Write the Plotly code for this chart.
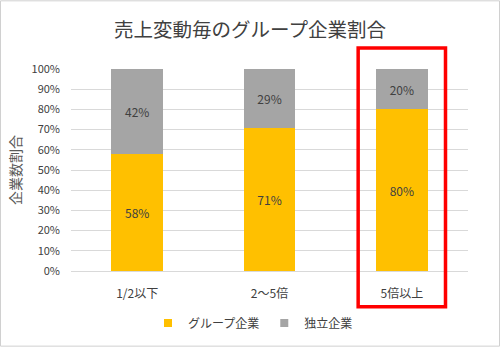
import plotly.graph_objects as go

categories = ["1/2以下", "2～5倍", "5倍以上"]
group_vals = [58, 71, 80]
indep_vals = [42, 29, 20]
y_ticks = [0, 10, 20, 30, 40, 50, 60, 70, 80, 90, 100]
series_names = ["グループ企業", "独立企業"]
series_colors = ["#FFC000", "#A5A5A5"]

FONT = "Meiryo, 'Noto Sans CJK JP', sans-serif"
W, H = 500, 348
L, R, T, B = 71, 32, 69, 76
pw, ph = W - L - R, H - T - B

fig = go.Figure()
for name, vals, col in zip(series_names, [group_vals, indep_vals], series_colors):
    fig.add_trace(go.Bar(
        x=categories, y=vals, name=name, showlegend=False,
        marker=dict(color=col, line=dict(width=0)),
        text=[f"{v}%" for v in vals], textposition="inside",
        insidetextanchor="middle",
        textfont=dict(color="#404040", size=12, family=FONT),
    ))
# legend entries with small square markers
for name, col in zip(series_names, series_colors):
    fig.add_trace(go.Scatter(
        x=[None], y=[None], mode="markers", name=name,
        marker=dict(symbol="square", size=8, color=col),
    ))

shapes = [
    dict(type="rect", xref="paper", yref="paper",
         x0=(0.5 - L) / pw, x1=(W - 0.5 - L) / pw,
         y0=-(B - 0.5) / ph, y1=1 + (T - 0.5) / ph,
         line=dict(color="#D0D0D0", width=1), layer="below"),
    dict(type="rect", xref="x", yref="paper",
         x0=2 - 0.33, x1=2 + 0.33,
         y0=-(308 - (H - B)) / ph, y1=1 + (T - 48) / ph,
         line=dict(color="#FF0000", width=3.5)),
]

fig.update_layout(
    width=W, height=H,
    margin=dict(l=L, r=R, t=T, b=B),
    barmode="stack", bargap=0.61,
    paper_bgcolor="white", plot_bgcolor="white",
    font=dict(family=FONT, color="#595959", size=11),
    title=dict(text="売上変動毎のグループ企業割合", x=0.5, xanchor="center",
               y=1 - 30 / H, yanchor="middle",
               font=dict(size=19.5, color="#404040", family=FONT)),
    xaxis=dict(showgrid=False, showline=True, linecolor="#D9D9D9", linewidth=1,
               ticks="", tickfont=dict(size=12, color="#404040"), ticklabelstandoff=12),
    yaxis=dict(range=[0, 100], tickvals=y_ticks,
               ticktext=[f"{v}%" for v in y_ticks],
               showgrid=True, gridcolor="#D9D9D9", gridwidth=1, zeroline=False,
               tickfont=dict(size=11, color="#404040"), ticks="", ticklabelstandoff=10,
               title=dict(text="企業数割合", font=dict(size=14, color="#595959"), standoff=6)),
    legend=dict(orientation="h", x=(253 - L) / pw, xanchor="center",
                y=-(323 - (H - B)) / ph, yanchor="middle",
                font=dict(size=12, color="#404040"),
                traceorder="normal", itemwidth=30, tracegroupgap=0,
                entrywidthmode="pixels"),
    shapes=shapes,
)

fig.write_html("out.html")
